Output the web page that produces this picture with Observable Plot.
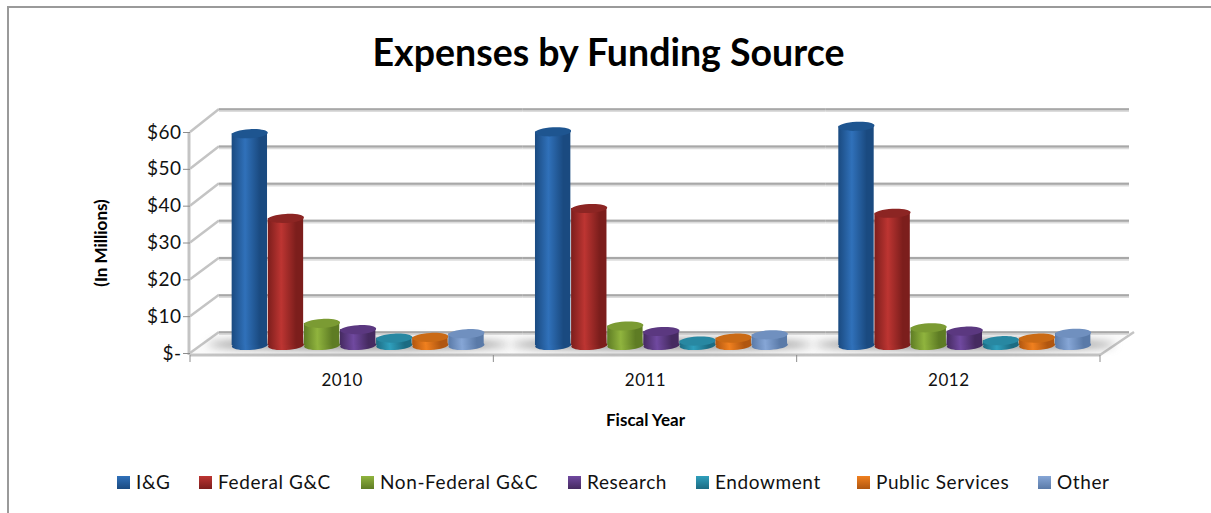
<!DOCTYPE html>
<html>
<head>
<meta charset="utf-8">
<script src="https://cdn.jsdelivr.net/npm/d3@7"></script>
<script src="https://cdn.jsdelivr.net/npm/@observablehq/plot@0.6"></script>
<style>
  html, body { margin: 0; padding: 0; background: #fff; }
  #chart { position: relative; width: 1211px; height: 513px; overflow: hidden; font-family: Lato, sans-serif; color: #111; }
  #border { position: absolute; left: 7px; top: 6px; right: -10px; bottom: -10px; border-top: 2px solid #9a9a9a; border-left: 2px solid #9a9a9a; }
  #title { position: absolute; left: 0; top: 28px; width: 1217px; text-align: center; font-size: 37.5px; line-height: 48px; font-weight: 700; color: #000; }
  #plot { position: absolute; left: 0; top: 90px; }
  #legend { position: absolute; left: 0; top: 470px; height: 24px; width: 100%; font-size: 19px; line-height: 24px; letter-spacing: .6px; }
  #legend span { position: absolute; white-space: nowrap; }
  #legend i { position: absolute; top: 6px; width: 13px; height: 13px; }
  svg text { font-family: Lato, sans-serif; fill: #111; }
  [aria-label="y-axis tick label"] text { font-size: 19px; letter-spacing: .5px; }
  [aria-label="fx-axis tick label"] text { font-size: 17px; letter-spacing: .5px; }
  [aria-label="y-axis label"] text, [aria-label="fx-axis label"] text { font-weight: 700; font-size: 17px; fill: #000; }
</style>
</head>
<body>
<div id="chart">
  <div id="border"></div>
  <div id="title">Expenses by Funding Source</div>
  <div id="plot"></div>
  <div id="legend"></div>
</div>
<script>
const years = ["2010", "2011", "2012"];
const sources = ["I&G", "Federal G&C", "Non-Federal G&C", "Research", "Endowment", "Public Services", "Other"];

// Spending per fiscal year, in millions of dollars
const ig = [57.5, 58, 59.5];
const federal = [34.5, 37.2, 35.9];
const nonFederal = [6, 5.3, 4.8];
const research = [4.3, 3.8, 3.9];
const endowment = [2, 1.2, 1.3];
const publicServices = [2.2, 2, 2];
const other = [3.2, 2.9, 3.3];
const seriesValues = [ig, federal, nonFederal, research, endowment, publicServices, other];

const yTicks = [0, 10, 20, 30, 40, 50, 60];

// Cylinder shading: [edge, highlight, cap]
const shades = [
  ["#1a4a80", "#3071ba", "#1e5590"],
  ["#7c1e1c", "#bd3532", "#8c2523"],
  ["#5e7c24", "#90b43e", "#7b9b33"],
  ["#452a60", "#7049a0", "#5b3880"],
  ["#1c6b82", "#2f9fbc", "#2888a2"],
  ["#b05610", "#f0801f", "#ca6a15"],
  ["#5a7aa8", "#86a6d6", "#7090bf"]
];

const rows = sources.flatMap((source, s) =>
  years.map((year, i) => ({year, source, s, value: seriesValues[s][i]}))
);

// An ellipse usable as a Plot dot symbol, flattened by the given ratio
const ellipse = (ratio) => ({
  draw(ctx, size) {
    const rx = Math.sqrt(size / Math.PI), ry = rx * ratio, k = 0.5523;
    ctx.moveTo(-rx, 0);
    ctx.bezierCurveTo(-rx, -ry * k, -rx * k, -ry, 0, -ry);
    ctx.bezierCurveTo(rx * k, -ry, rx, -ry * k, rx, 0);
    ctx.bezierCurveTo(rx, ry * k, rx * k, ry, 0, ry);
    ctx.bezierCurveTo(-rx * k, ry, -rx, ry * k, -rx, 0);
    ctx.closePath();
  }
});

const H = 350, ML = 190, MR = 111, MT = 42, MB = 87;
const barLift = -8;      // bars stand mid-way into the floor depth
const barShift = 16;
const depthX = 29;       // horizontal depth of the walls
const backFactor = 223 / 221;   // back wall ticks are slightly further apart

// Floor, side wall diagonals, frame edges and ticks of the 3D box
const box = Plot.frame({
  facet: "super",
  render(index, scales, values, dim) {
    const y = scales.y, g = d3.create("svg:g");
    const left = dim.marginLeft, right = dim.width - dim.marginRight, base = y(0);
    const soft = "#c4c4c4", hard = "#8c8c8c";
    g.append("path")
      .attr("d", `M${left},${base}L${left + depthX},${base - 21}L${right + 34},${base - 21}L${right},${base + 2}Z`)
      .attr("fill", "#fafafa");
    for (const v of yTicks) {
      g.append("line").attr("x1", left).attr("y1", y(v)).attr("x2", left + depthX)
        .attr("y2", y(v * backFactor) - 21).attr("stroke", soft).attr("stroke-width", 2.5);
    }
    g.append("line").attr("x1", left - 1).attr("x2", left - 1).attr("y1", y(60)).attr("y2", base + 2)
      .attr("stroke", soft).attr("stroke-width", 3);
    g.append("line").attr("x1", right).attr("y1", base + 2).attr("x2", right + 34).attr("y2", base - 21)
      .attr("stroke", soft).attr("stroke-width", 2.5);
    g.append("line").attr("x1", left).attr("x2", right).attr("y1", base + 2).attr("y2", base + 2)
      .attr("stroke", soft).attr("stroke-width", 3);
    for (let i = 0; i <= years.length; i++) {
      const x = left + i * (right - left) / years.length;
      g.append("line").attr("x1", x).attr("x2", x).attr("y1", base + 2).attr("y2", base + 9)
        .attr("stroke", hard).attr("stroke-width", 1);
    }
    return g.node();
  }
});

// Gradients shared by the cylinders
const gradients = Plot.frame({
  facet: "super",
  render() {
    const defs = d3.create("svg:defs");
    shades.forEach(([edge, light], s) => {
      const lg = defs.append("linearGradient").attr("id", `cyl${s}`);
      [[0, edge], [0.38, light], [0.8, edge], [1, edge]].forEach(([o, c]) =>
        lg.append("stop").attr("offset", o).attr("stop-color", c));
    });
    return defs.node();
  }
});

const cylinderMarks = sources.flatMap((source, s) => {
  const data = rows.filter((d) => d.s === s);
  const common = {fx: "year", x: "source", dx: barShift, dy: barLift};
  return [
    // base cap, body, top cap
    Plot.dot(data, {...common, y: () => 0, r: 18, rotate: -3, symbol: ellipse(0.25), fill: `url(#cyl${s})`}),
    Plot.barY(data, {...common, y: "value", fill: `url(#cyl${s})`}),
    Plot.dot(data, {...common, y: "value", r: 18, rotate: -3, symbol: ellipse(0.25), fill: shades[s][2]})
  ];
});

const plot = Plot.plot({
  width: 1211,
  height: H,
  marginLeft: ML,
  marginRight: MR,
  marginTop: MT,
  marginBottom: MB,
  style: {background: "transparent", overflow: "visible"},
  fx: {domain: years, padding: 0, round: false},
  x: {domain: sources, paddingInner: 0.02, paddingOuter: 0.71, round: false, axis: null},
  y: {domain: [0, 60]},
  marks: [
    gradients,
    box,
    // back wall gridlines with their soft lower edge
    Plot.ruleY(yTicks, {y: (d) => d * backFactor, dx: depthX, dy: -20.4, stroke: "#dcdcdc", strokeWidth: 4}),
    Plot.ruleY(yTicks, {y: (d) => d * backFactor, dx: depthX, dy: -21.2, stroke: "#a8a8a8", strokeWidth: 2}),
    // shadow the cylinders cast on the floor
    Plot.dot(years, {
      fx: (d) => d, x: () => "Research", y: () => 0, dx: barShift, dy: barLift - 1,
      r: 150, symbol: ellipse(0.035), fill: "#777", fillOpacity: 0.8, imageFilter: "blur(4px)"
    }),
    ...cylinderMarks,
    Plot.axisY({
      ticks: yTicks,
      tickFormat: (d) => (d === 0 ? "$-" : `$${d}`),
      tickSize: 7,
      tickPadding: 2,
      stroke: "#8c8c8c",
      label: "(In Millions)",
      labelAnchor: "center",
      labelArrow: "none",
      labelOffset: 96
    }),
    Plot.axisFx({
      anchor: "bottom",
      tickSize: 0,
      tickPadding: 20,
      label: "Fiscal Year",
      labelAnchor: "center",
      labelArrow: "none",
      labelOffset: 72
    })
  ]
});
document.getElementById("plot").append(plot);

// Legend row below the plot
const legendX = [117, 199, 361, 568, 696, 857, 1038];
const legend = d3.select("#legend");
sources.forEach((source, s) => {
  legend.append("i")
    .style("left", `${legendX[s]}px`)
    .style("background", `linear-gradient(${shades[s][1]}, ${shades[s][0]})`);
  legend.append("span").style("left", `${legendX[s] + 19}px`).text(source);
});
</script>
</body>
</html>
